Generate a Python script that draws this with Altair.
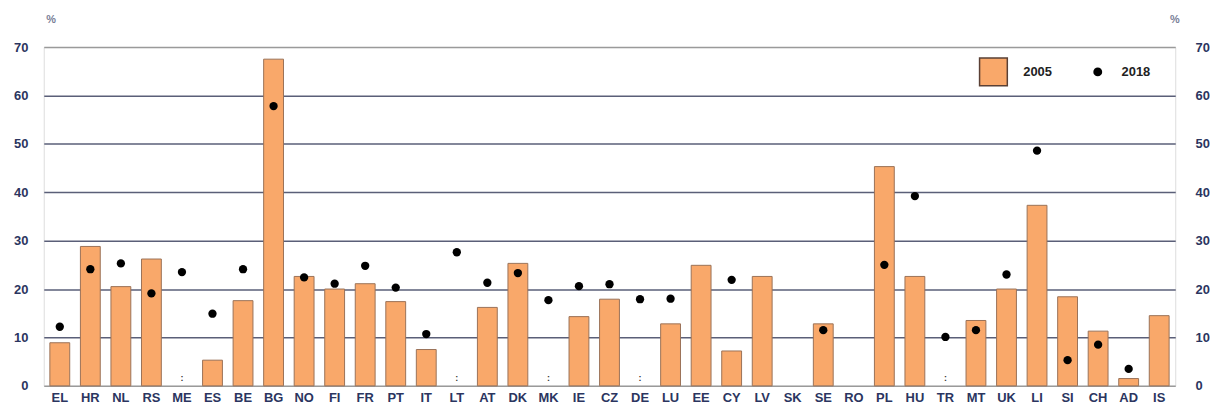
import altair as alt
import pandas as pd

countries = ["EL", "HR", "NL", "RS", "ME", "ES", "BE", "BG", "NO", "FI", "FR", "PT", "IT",
             "LT", "AT", "DK", "MK", "IE", "CZ", "DE", "LU", "EE", "CY", "LV", "SK", "SE",
             "RO", "PL", "HU", "TR", "MT", "UK", "LI", "SI", "CH", "AD", "IS"]
v2005 = [8.9, 28.8, 20.5, 26.2, None, 5.3, 17.6, 67.5, 22.6, 20.0, 21.1, 17.4, 7.5,
         None, 16.2, 25.3, None, 14.3, 17.9, None, 12.8, 24.9, 7.2, 22.6, None, 12.8,
         None, 45.3, 22.6, None, 13.5, 20.0, 37.3, 18.4, 11.3, 1.5, 14.5]
v2018 = [12.2, 24.1, 25.3, 19.1, 23.5, 14.9, 24.1, 57.8, 22.4, 21.1, 24.8, 20.3, 10.7,
         27.6, 21.3, 23.3, 17.7, 20.6, 21.0, 17.9, 18.0, None, 21.9, None, None, 11.5,
         None, 25.0, 39.2, 10.1, 11.5, 23.0, 48.6, 5.3, 8.5, 3.5, None]
not_available = ["ME", "LT", "MK", "DE", "TR"]
y_ticks = [0, 10, 20, 30, 40, 50, 60, 70]

df = pd.DataFrame({"country": countries, "v2005": v2005, "v2018": v2018})
df_na = pd.DataFrame({"country": not_available, "zero": [0] * len(not_available), "mark": [":"] * len(not_available)})

FONT = "Liberation Sans"
NAVY = "#2b3560"
ORANGE = "#F9A86A"

xenc = alt.X("country:N", sort=countries, title=None,
             scale=alt.Scale(paddingInner=0.35, paddingOuter=0.2),
             axis=alt.Axis(labelAngle=0, ticks=False, domain=False, labelPadding=6,
                           labelFont=FONT, labelFontSize=13, labelFontWeight="bold",
                           labelColor=NAVY))
yscale = alt.Scale(domain=[0, 70], nice=False)

left_axis = alt.Axis(values=y_ticks, ticks=False, domain=False, labelPadding=16,
                     labelFont=FONT, labelFontSize=13, labelFontWeight="bold",
                     labelColor=NAVY,
                     grid=True,
                     gridColor={"condition": {"test": "datum.value === 70 || datum.value === 0",
                                              "value": "#9a9a9a"},
                                "value": "#5a5f78"},
                     gridWidth=1.5,
                     titleAngle=0, titleX=7, titleY=-23, titleAlign="center",
                     titleFont=FONT, titleFontSize=11, titleFontWeight="bold",
                     titleColor="#7a7f98")

base = alt.Chart(df)

bars = base.mark_bar(color=ORANGE, stroke="#9a7258", strokeWidth=1).encode(
    x=xenc,
    y=alt.Y("v2005:Q", scale=yscale, title="%", axis=left_axis),
)

na_text = alt.Chart(df_na).mark_text(font=FONT, fontSize=9, fontWeight="bold",
                                     color="#333", dy=-8).encode(
    x=alt.X("country:N", sort=countries),
    y=alt.Y("zero:Q", scale=yscale, title="%"),
    text="mark:N",
)

points = base.mark_circle(color="black", size=70, opacity=1).encode(
    x=alt.X("country:N", sort=countries),
    y=alt.Y("v2018:Q", scale=yscale, title="%",
            axis=alt.Axis(orient="right", values=y_ticks, ticks=False, domain=False,
                          grid=False, labelPadding=20,
                          labelFont=FONT, labelFontSize=13, labelFontWeight="bold",
                          labelColor=NAVY,
                          titleAngle=0, titleX=-1, titleY=-23, titleAlign="center",
                          titleFont=FONT, titleFontSize=11, titleFontWeight="bold",
                          titleColor="#7a7f98")),
)

legend_df = pd.DataFrame({"label": ["2005", "2018"]})
leg_sq = alt.Chart(legend_df).transform_filter("datum.label === '2005'").mark_square(
    color=ORANGE, stroke="#5a4035", strokeWidth=1.5, size=780, opacity=1).encode(
    x=alt.value(956), y=alt.value(25))
leg_ci = alt.Chart(legend_df).transform_filter("datum.label === '2018'").mark_circle(
    color="black", size=80, opacity=1).encode(
    x=alt.value(1061), y=alt.value(25))
leg_t1 = alt.Chart(legend_df).transform_filter("datum.label === '2005'").mark_text(
    align="left", baseline="middle", font=FONT, fontSize=13, fontWeight="bold",
    color="#222").encode(x=alt.value(986), y=alt.value(25), text="label:N")
leg_t2 = alt.Chart(legend_df).transform_filter("datum.label === '2018'").mark_text(
    align="left", baseline="middle", font=FONT, fontSize=13, fontWeight="bold",
    color="#222").encode(x=alt.value(1085), y=alt.value(25), text="label:N")

left = alt.layer(bars, na_text, leg_sq, leg_ci, leg_t1, leg_t2)
chart = alt.layer(left, points).resolve_scale(y="independent").properties(
    width=1139, height=341,
    padding={"left": 36, "top": 38, "right": 35, "bottom": 21},
    autosize=alt.AutoSizeParams(type="none"),
).configure_view(stroke="#9a9a9a", strokeWidth=1.5).configure(background="white")

chart.save("out.html", embed_options={"renderer": "svg", "actions": False})
